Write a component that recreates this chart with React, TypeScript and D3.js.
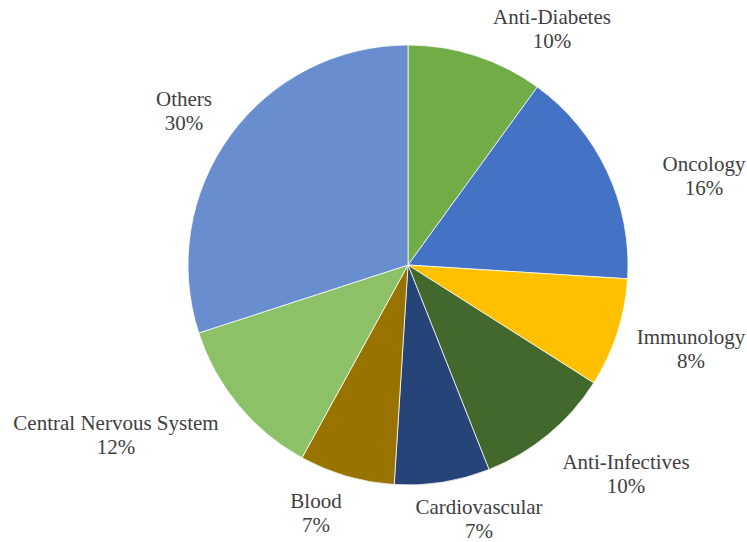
import React from "react";
import * as d3 from "d3";

const categories = ["Anti-Diabetes", "Oncology", "Immunology", "Anti-Infectives", "Cardiovascular", "Blood", "Central Nervous System", "Others"];
const values = [10, 16, 8, 10, 7, 7, 12, 30];
const colors = ["#70AD47", "#4472C4", "#FFC000", "#43682B", "#264478", "#997300", "#8CC168", "#698ED0"];
// label block centers (x, first line center y)
const labelPos: [number, number][] = [
  [552, 17], [704, 164], [691, 337], [626, 462], [479, 507], [316, 501], [116, 423], [184, 99],
];

export default function App() {
  const W = 747, H = 542;
  const cx = 408, cy = 265, r = 220;
  const pie = d3.pie<number>().sort(null).value((d) => d);
  const arcs = pie(values);
  const arc = d3.arc<d3.PieArcDatum<number>>().innerRadius(0).outerRadius(r);
  return (
    <svg width={W} height={H} style={{ position: "absolute", left: 0, top: 0, background: "#fff" }}>
      <g transform={`translate(${cx},${cy})`}>
        {arcs.map((a, i) => (
          <path key={i} d={arc(a) || ""} fill={colors[i]} stroke="#fff" strokeWidth={0.75} />
        ))}
      </g>
      {arcs.map((a, i) => {
        const [x, y] = labelPos[i];
        return (
          <text key={i} x={x} textAnchor="middle" style={{ fontFamily: "Liberation Serif, Times New Roman, DejaVu Serif, serif", fontSize: "21px" }} fill="#404040">
            <tspan x={x} y={y + 7}>{categories[i]}</tspan>
            <tspan x={x} y={y + 31}>{`${values[i]}%`}</tspan>
          </text>
        );
      })}
    </svg>
  );
}
